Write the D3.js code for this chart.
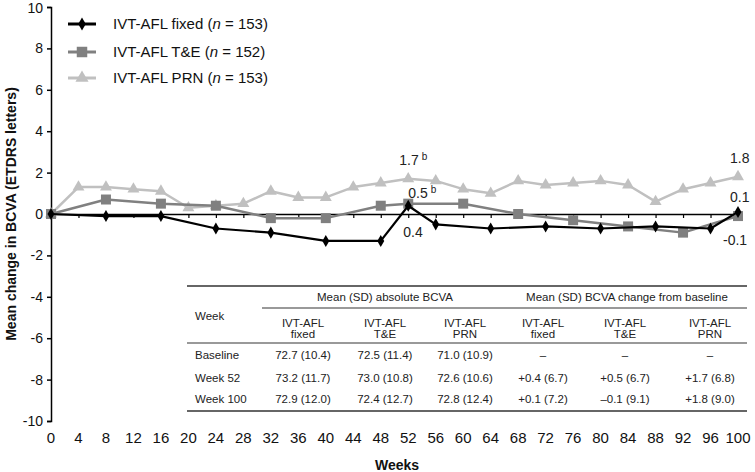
<!DOCTYPE html>
<html><head><meta charset="utf-8">
<script src="https://cdn.jsdelivr.net/npm/d3@7"></script>
<style>
html,body{margin:0;padding:0;background:#fff;}
text{font-family:"Liberation Sans",Arial,sans-serif;}
</style></head>
<body>
<svg id="chart" width="755" height="472"></svg>
<script>
// ---- data ----
const weekTicks = [0,4,8,12,16,20,24,28,32,36,40,44,48,52,56,60,64,68,72,76,80,84,88,92,96,100];
const yTicks = [-10,-8,-6,-4,-2,0,2,4,6,8,10];
const fixedWeeks = [0,8,16,24,32,40,48,52,56,64,72,80,88,96,100];
const fixedValues = [0,-0.1,-0.1,-0.7,-0.9,-1.3,-1.3,0.4,-0.5,-0.7,-0.6,-0.7,-0.6,-0.7,0.1];
const teWeeks = [0,8,16,24,32,40,48,52,60,68,76,84,92,100];
const teValues = [0,0.7,0.5,0.4,-0.2,-0.2,0.4,0.5,0.5,0,-0.3,-0.6,-0.9,-0.1];
const prnWeeks = [0,4,8,12,16,20,24,28,32,36,40,44,48,52,56,60,64,68,72,76,80,84,88,92,96,100];
const prnValues = [0,1.3,1.3,1.2,1.1,0.3,0.4,0.5,1.1,0.8,0.8,1.3,1.5,1.7,1.6,1.2,1.0,1.6,1.4,1.5,1.6,1.4,0.6,1.2,1.5,1.8];
const seriesNames = ["IVT-AFL fixed", "IVT-AFL T&E", "IVT-AFL PRN"];
const seriesN = [153, 152, 153];
// table
const tableGroups = ["Mean (SD) absolute BCVA", "Mean (SD) BCVA change from baseline"];
const tableColHeads = [["IVT-AFL","fixed"],["IVT-AFL","T&E"],["IVT-AFL","PRN"],["IVT-AFL","fixed"],["IVT-AFL","T&E"],["IVT-AFL","PRN"]];
const tableRowLabels = ["Baseline","Week 52","Week 100"];
const tableRows = [
  ["72.7 (10.4)","72.5 (11.4)","71.0 (10.9)","\u2013","\u2013","\u2013"],
  ["73.2 (11.7)","73.0 (10.8)","72.6 (10.6)","+0.4 (6.7)","+0.5 (6.7)","+1.7 (6.8)"],
  ["72.9 (12.0)","72.4 (12.7)","72.8 (12.4)","+0.1 (7.2)","\u20130.1 (9.1)","+1.8 (9.0)"]
];
// annotations
const annWeeks = [52, 52, 52, 100, 100, 100];
const annValues = [1.7, 0.5, 0.4, 1.8, 0.1, -0.1];
const annLabels = ["1.7","0.5","0.4","1.8","0.1","-0.1"];
const annSups = ["b","b","","","",""];

// ---- drawing ----
const svg = d3.select("#chart");
const x = d3.scaleLinear().domain([0,100]).range([51,738]);
const y = d3.scaleLinear().domain([-10,10]).range([421,7]);

const colors = ["#000000","#808080","#c0c0c0"];

// y axis
const yAxis = svg.append("g").attr("transform","translate(51,0)")
  .call(d3.axisLeft(y).tickValues(yTicks).tickSize(4).tickSizeOuter(4).tickPadding(4).tickFormat(d=>d));
yAxis.select(".domain").attr("stroke","#000").attr("stroke-width",1.5);
yAxis.selectAll(".tick line").attr("stroke","#000").attr("stroke-width",1.5);
yAxis.selectAll(".tick text").attr("font-size",14).attr("fill","#111")
  .attr("font-family","'Liberation Sans',Arial,sans-serif");
yAxis.selectAll(".tick text").filter(d=>d===10).attr("dy","0.42em");

// x axis at zero
const xAxis = svg.append("g").attr("transform",`translate(0,${y(0)})`)
  .call(d3.axisBottom(x).tickValues(weekTicks).tickSize(4).tickSizeOuter(0).tickFormat(""));
xAxis.select(".domain").attr("stroke","#000").attr("stroke-width",1.5);
xAxis.selectAll(".tick line").attr("stroke","#000").attr("stroke-width",1.2);

// x tick labels at bottom
svg.append("g").selectAll("text").data(weekTicks).join("text")
  .attr("x", d=>x(d)).attr("y", 443).attr("text-anchor","middle")
  .attr("font-size",15).attr("fill","#111").text(d=>d);

// axis titles
svg.append("text").attr("x",397).attr("y",470).attr("text-anchor","middle")
  .attr("font-size",14).attr("font-weight","bold").attr("fill","#111").text("Weeks");
svg.append("text").attr("transform",`translate(16,${y(0)}) rotate(-90)`)
  .attr("text-anchor","middle").attr("font-size",14).attr("font-weight","bold").attr("fill","#111")
  .text("Mean change in BCVA (ETDRS letters)");

// series
const series = [
  {weeks: fixedWeeks, values: fixedValues, color: colors[0], w: 2.2, sym: d3.symbolDiamond, size: 42},
  {weeks: teWeeks, values: teValues, color: colors[1], w: 2.5, sym: d3.symbolSquare, size: 100},
  {weeks: prnWeeks, values: prnValues, color: colors[2], w: 2.5, sym: d3.symbolTriangle, size: 62}
];
const line = d3.line().x(d=>x(d[0])).y(d=>y(d[1]));
[2,1,0].forEach(i=>{
  const s = series[i];
  const pts = s.weeks.map((w,k)=>[w, s.values[k]]);
  svg.append("path").datum(pts).attr("d",line).attr("fill","none")
    .attr("stroke",s.color).attr("stroke-width",s.w).attr("stroke-linejoin","round");
  svg.append("g").selectAll("path").data(pts).join("path")
    .attr("transform",d=>`translate(${x(d[0])},${y(d[1])})`)
    .attr("d", d3.symbol().type(s.sym).size(s.size)).attr("fill",s.color);
});

// legend
const legY = [24, 52, 78];
series.forEach((s,i)=>{
  const g = svg.append("g").attr("transform",`translate(0,${legY[i]})`);
  g.append("line").attr("x1",68).attr("x2",96).attr("stroke",s.color).attr("stroke-width",3);
  g.append("path").attr("transform","translate(82,0)")
    .attr("d", d3.symbol().type(s.sym).size(i===0?50:(i===1?110:75))).attr("fill",s.color);
  const t = g.append("text").attr("x",113).attr("y",5).attr("font-size",15).attr("fill","#111");
  t.append("tspan").text(seriesNames[i]+" (");
  t.append("tspan").attr("font-style","italic").text("n");
  t.append("tspan").text(" = "+seriesN[i]+")");
});

// annotations (start-anchored)
const annDx = [-9, 0, -5, -8, -8, -15];
const annDy = [-14, -6, 31, -14, -10, 29];
annLabels.forEach((lab,i)=>{
  const t = svg.append("text")
    .attr("x", x(annWeeks[i]) + annDx[i])
    .attr("y", y(annValues[i]) + annDy[i])
    .attr("font-size",14).attr("fill","#222");
  t.append("tspan").text(lab);
  if (annSups[i]) {
    t.append("tspan").attr("dx",3).attr("dy",-5).attr("font-size",10).text(annSups[i]);
  }
});

// table
const tg = svg.append("g").attr("font-size",11.5).attr("fill","#222");
const colX = [303,385,465,543,625,710];
const groupX = [385,627];
const tLeft = 187, tRight = 747;
tg.append("line").attr("x1",tLeft).attr("x2",tRight).attr("y1",286).attr("y2",286).attr("stroke","#666").attr("stroke-width",2);
tg.append("line").attr("x1",262).attr("x2",tRight).attr("y1",308).attr("y2",308).attr("stroke","#777").attr("stroke-width",1.5);
tg.append("line").attr("x1",tLeft).attr("x2",tRight).attr("y1",343).attr("y2",343).attr("stroke","#777").attr("stroke-width",1.5);
tg.append("line").attr("x1",tLeft).attr("x2",tRight).attr("y1",411).attr("y2",411).attr("stroke","#666").attr("stroke-width",2);
tableGroups.forEach((g,i)=>{
  tg.append("text").attr("x",groupX[i]).attr("y",301).attr("text-anchor","middle").text(g);
});
tg.append("text").attr("x",195).attr("y",320).text("Week");
tableColHeads.forEach((h,i)=>{
  tg.append("text").attr("x",colX[i]).attr("y",327).attr("text-anchor","middle").text(h[0]);
  tg.append("text").attr("x",colX[i]).attr("y",338).attr("text-anchor","middle").text(h[1]);
});
const rowY = [359, 382, 403];
tableRowLabels.forEach((r,i)=>{
  tg.append("text").attr("x",195).attr("y",rowY[i]).text(r);
  tableRows[i].forEach((c,j)=>{
    tg.append("text").attr("x",colX[j]).attr("y",rowY[i]).attr("text-anchor","middle").text(c);
  });
});
</script>
</body></html>
